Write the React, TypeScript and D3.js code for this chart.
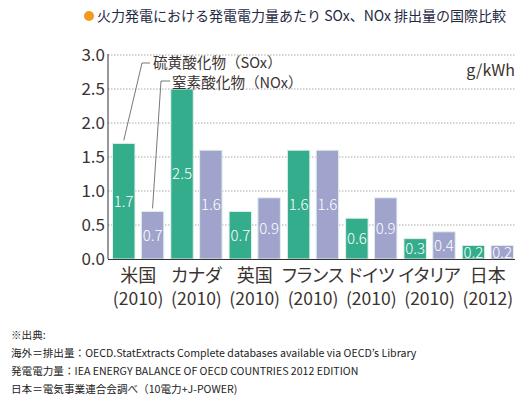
import React from 'react';
import * as d3 from 'd3';

const countries = ['米国', 'カナダ', '英国', 'フランス', 'ドイツ', 'イタリア', '日本'];
const years = ['(2010)', '(2010)', '(2010)', '(2010)', '(2010)', '(2010)', '(2012)'];
const sox = [1.7, 2.5, 0.7, 1.6, 0.6, 0.3, 0.2];
const nox = [0.7, 1.6, 0.9, 1.6, 0.9, 0.4, 0.2];
const yTicks = [0, 0.5, 1.0, 1.5, 2.0, 2.5, 3.0];
const notes = [
  '※出典:',
  '海外＝排出量：OECD.StatExtracts Complete databases available via OECD\u2019s Library',
  '発電電力量：IEA ENERGY BALANCE OF OECD COUNTRIES 2012 EDITION',
  '日本＝電気事業連合会調べ（10電力+J-POWER)',
];

const W = 523;
const H = 398;
const FONT = '"Noto Sans CJK JP", "Noto Sans", sans-serif';
const GREEN = '#33ad8c';
const PURPLE = '#a0a4cd';
const TEXT = '#3a3330';
const palt = { fontFeatureSettings: '"palt"' };

export default function App() {
  const left = 108;
  const right = 517;
  const top = 55;
  const bottom = 259;

  const y = d3.scaleLinear().domain([0, 3]).range([bottom, top]);
  const x0 = d3.scaleBand().domain(countries).range([left + 1, right]).paddingInner(0.12).paddingOuter(0.06);
  const x1 = d3.scaleBand().domain(['sox', 'nox']).range([0, x0.bandwidth()]).paddingInner(0.22);

  const bars = countries.flatMap((c, i) => [
    { c, key: 'sox', v: sox[i], color: GREEN },
    { c, key: 'nox', v: nox[i], color: PURPLE },
  ]);

  const usSoxX = (x0('米国') || 0) + (x1('sox') || 0) + x1.bandwidth() / 2;
  const usNoxX = (x0('米国') || 0) + (x1('nox') || 0) + x1.bandwidth() / 2;

  return (
    <svg width={W} height={H} style={{ position: 'absolute', left: 0, top: 0, background: '#fff' }} fontFamily={FONT}>
      {/* title */}
      <circle cx={89} cy={16} r={5} fill="#f39a1e" />
      <text x={97} y={21} fontSize={14} fill="#1f2a44">火力発電における発電電力量あたり SOx、NOx 排出量の国際比較</text>

      {/* grid */}
      {yTicks.filter(t => t > 0).map(t => (
        <line key={t} x1={left} x2={right - 2} y1={y(t)} y2={y(t)} stroke="#aaa" strokeWidth={1} strokeDasharray="1.5,1.5" />
      ))}

      {/* bars */}
      {bars.map(b => {
        const bx = (x0(b.c) || 0) + (x1(b.key) || 0);
        const by = y(b.v);
        return (
          <g key={b.c + b.key}>
            <rect x={bx} y={by} width={x1.bandwidth()} height={bottom - by} fill={b.color} stroke="#e4f0ec" strokeWidth={1} />
            <text x={bx + x1.bandwidth() / 2} y={(by + bottom) / 2} dy="0.36em" textAnchor="middle" fontSize={15} fill="#fff" fontWeight={300}>
              {b.v.toFixed(1)}
            </text>
          </g>
        );
      })}

      {/* axes */}
      <line x1={left} x2={left} y1={top - 1} y2={bottom} stroke="#333" strokeWidth={1} />
      <line x1={left} x2={right - 2} y1={bottom + 0.5} y2={bottom + 0.5} stroke="#333" strokeWidth={1} />
      {yTicks.map(t => (
        <text key={t} x={left - 3} y={y(t)} dy="0.36em" textAnchor="end" fontSize={17} fill={TEXT}>
          {t.toFixed(1)}
        </text>
      ))}
      <text x={515} y={76} textAnchor="end" fontSize={16} fill={TEXT}>g/kWh</text>

      {/* category labels */}
      {countries.map((c, i) => {
        const cx = (x0(c) || 0) + x0.bandwidth() / 2;
        return (
          <g key={c}>
            <text x={cx} y={282} textAnchor="middle" fontSize={18} fill={TEXT} style={palt}>{c}</text>
            <text x={cx} y={305} textAnchor="middle" fontSize={17.5} fill={TEXT}>{years[i]}</text>
          </g>
        );
      })}

      {/* legend annotations */}
      <polyline points={`150,63 142,63 ${usSoxX},${y(sox[0]) - 3}`} fill="none" stroke="#555" strokeWidth={0.8} />
      <text x={153} y={67.5} fontSize={14.6} fill={TEXT}>硫黄酸化物（SOx）</text>
      <polyline points={`170,81 161,81 ${usNoxX},${y(nox[0]) - 3}`} fill="none" stroke="#555" strokeWidth={0.8} />
      <text x={172} y={88} fontSize={14.6} fill={TEXT}>窒素酸化物（NOx）</text>

      {/* notes */}
      {notes.map((n, i) => (
        <text key={i} x={11} y={339 + i * 18} fontSize={10.6} fill="#222">{n}</text>
      ))}
    </svg>
  );
}
